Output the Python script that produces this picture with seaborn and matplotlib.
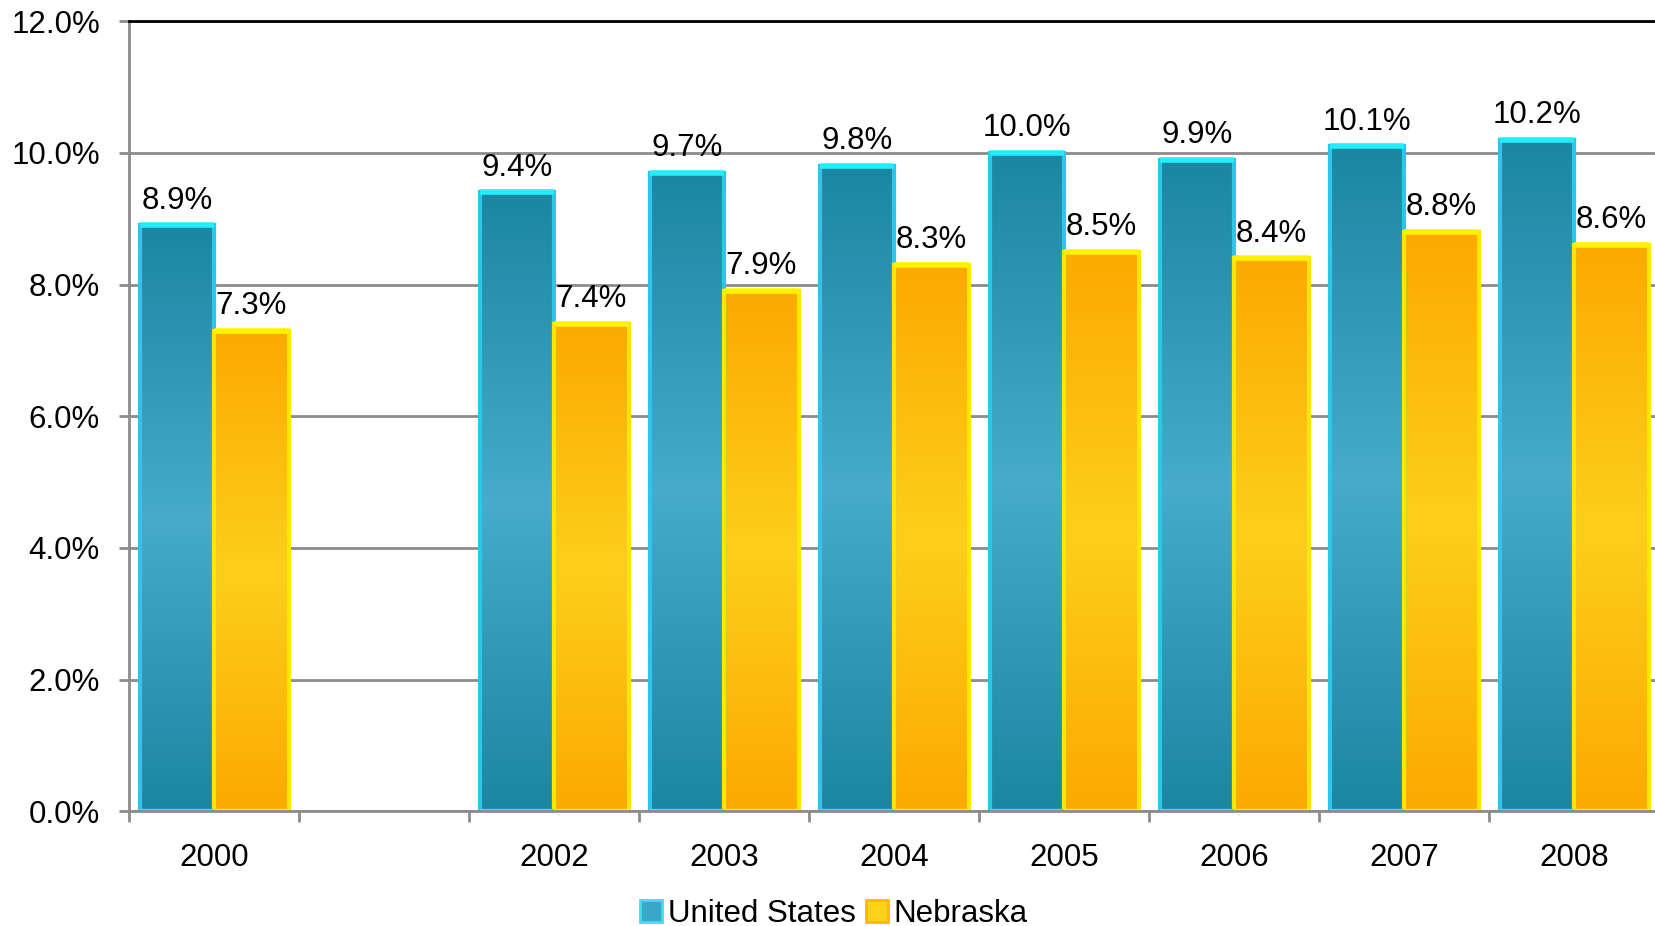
import numpy as np
import pandas as pd
import matplotlib
matplotlib.use("Agg")
import matplotlib.pyplot as plt
from matplotlib.colors import LinearSegmentedColormap
from matplotlib.patches import Patch
from matplotlib.ticker import FixedLocator, PercentFormatter
import seaborn as sns

# Share of population (%) by year; 2001 has no figures
years = ["2000", "2001", "2002", "2003", "2004", "2005", "2006", "2007", "2008"]
data_years = ["2000", "2002", "2003", "2004", "2005", "2006", "2007", "2008"]
us_values = [8.9, 9.4, 9.7, 9.8, 10.0, 9.9, 10.1, 10.2]
ne_values = [7.3, 7.4, 7.9, 8.3, 8.5, 8.4, 8.8, 8.6]
series = ["United States", "Nebraska"]

df = pd.DataFrame({
    "year": data_years * 2,
    "value": us_values + ne_values,
    "region": [series[0]] * len(data_years) + [series[1]] * len(data_years),
})

sns.set_style("white")
plt.rcParams["font.family"] = ["Liberation Sans", "DejaVu Sans"]
plt.rcParams["text.color"] = "black"
plt.rcParams["xtick.labelcolor"] = "black"
plt.rcParams["ytick.labelcolor"] = "black"

FS = 22.5

fig = plt.figure(figsize=(16.55, 9.26), dpi=100)
ax = fig.add_axes([0.078, 0.124, 0.9245, 0.853])

sns.barplot(data=df, x="year", y="value", hue="region", order=years,
            hue_order=series, width=0.876, legend=False, ax=ax,
            palette=["#2f9bbd", "#fdbd0c"], saturation=1, errorbar=None)

# Vertical gradients for each series: dark ends, light middle
grad = {
    series[0]: LinearSegmentedColormap.from_list(
        "us", ["#1b86a2", "#46abcc", "#1b86a2"]),
    series[1]: LinearSegmentedColormap.from_list(
        "ne", ["#fca900", "#fdcf1c", "#fca900"]),
}
edge = {series[0]: "#2ec6e8", series[1]: "#ffe500"}
cap = {series[0]: "#22eefa", series[1]: "#fff200"}

ramp = np.linspace(0, 1, 256).reshape(-1, 1)
for name, cont in zip(series, ax.containers):
    for bar in cont:
        x0, w, h = bar.get_x(), bar.get_width(), bar.get_height()
        ax.imshow(ramp, cmap=grad[name], aspect="auto", origin="lower",
                  extent=[x0, x0 + w, 0, h], zorder=1.5, interpolation="bicubic")
        bar.set_facecolor("none")
        bar.set_edgecolor(edge[name])
        bar.set_linewidth(3)
        bar.set_zorder(2)
        ax.plot([x0, x0 + w], [h, h], color=cap[name], lw=4,
                solid_capstyle="butt", zorder=2.5)
        ax.plot([x0, x0 + w], [0, 0], color=cap[name], lw=3,
                solid_capstyle="butt", zorder=2.5)
    ax.bar_label(cont, labels=[f"{v:.1f}%" for v in cont.datavalues],
                 padding=7, fontsize=FS, color="black", zorder=3)

ax.set_xlim(-0.5, len(years) - 0.5)
ax.set_ylim(0, 12)
ax.set_yticks(np.arange(0, 12.1, 2))
ax.yaxis.set_major_formatter(PercentFormatter(decimals=1))
ax.set_axisbelow(True)
ax.yaxis.grid(True, color="#8c8c8c", lw=2)
ax.xaxis.grid(False)

# Category labels centred, tick marks at category boundaries
ax.set_xticks(range(len(years)))
ax.set_xticklabels(["" if y == "2001" else y for y in years])
ax.xaxis.set_minor_locator(FixedLocator(np.arange(-0.5, len(years), 1)))
ax.tick_params(axis="x", which="major", length=0, pad=23, labelsize=FS,
               labelcolor="black")
ax.tick_params(axis="x", which="minor", length=8, width=2, color="#8c8c8c",
               direction="out", bottom=True)
ax.tick_params(axis="y", length=7, width=2, color="#8c8c8c", direction="out",
               left=True, pad=14, labelsize=FS, labelcolor="black")
ax.set_xlabel("")
ax.set_ylabel("")

for side in ("left", "bottom"):
    ax.spines[side].set_color("#8c8c8c")
    ax.spines[side].set_linewidth(2)
ax.spines["top"].set_color("black")
ax.spines["top"].set_linewidth(2)
ax.spines["right"].set_visible(False)

handles = [
    Patch(facecolor="#3aa6c8", edgecolor="#3fdcf2", lw=2, label=series[0]),
    Patch(facecolor="#fdd21a", edgecolor="#ffb800", lw=2, label=series[1]),
]
fig.legend(handles=handles, loc="center", bbox_to_anchor=(0.504, 0.013),
           ncol=2, frameon=False, fontsize=FS, handlelength=0.7,
           handleheight=0.7, handletextpad=0.2, columnspacing=0.3,
           borderpad=0, labelcolor="black")

fig.savefig("out.png", dpi=100)
